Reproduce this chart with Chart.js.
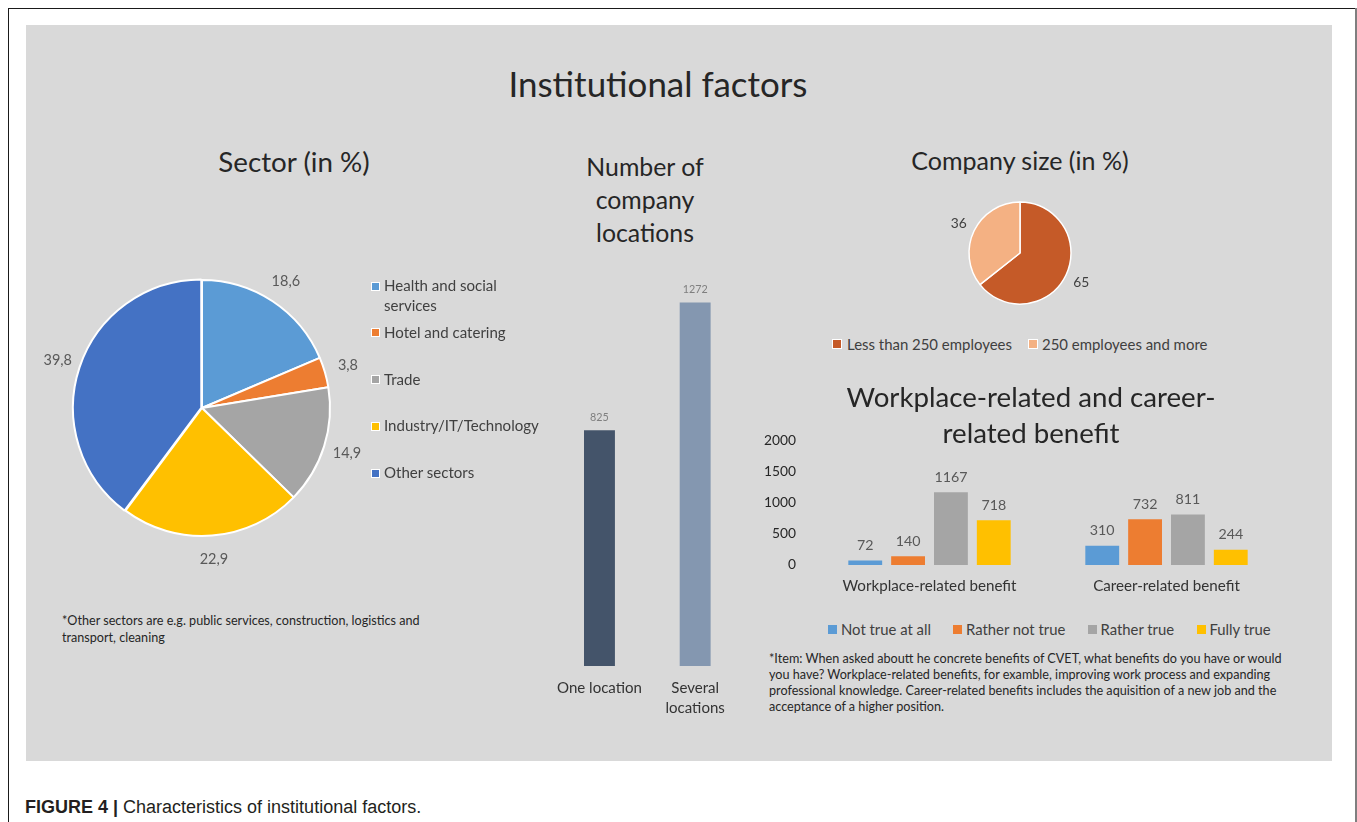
<!DOCTYPE html>
<html>
<head>
<meta charset="utf-8">
<script src="https://cdn.jsdelivr.net/npm/chart.js@4.4.1/dist/chart.umd.min.js"></script>
<style>
  body { margin: 0; width: 1357px; height: 822px; overflow: hidden; position: relative; background: #fff; font-family: Lato, sans-serif; }
  .abs { position: absolute; }
  #panel { left: 26px; top: 25px; width: 1306px; height: 736px; background: #d9d9d9; }
  #lineTop { left: 8px; top: 8px; width: 1349px; height: 1px; background: #1a1a1a; }
  #lineLeft { left: 8px; top: 8px; width: 1px; height: 814px; background: #1a1a1a; }
  #lineRight { left: 1355px; top: 8px; width: 2px; height: 814px; background: #7f7f7f; }
  .sq { position: absolute; box-sizing: border-box; }
</style>
</head>
<body>
<div class="abs" id="lineTop"></div>
<div class="abs" id="lineLeft"></div>
<div class="abs" id="lineRight"></div>
<div class="abs" id="panel"></div>

<canvas id="sector" class="abs" width="360" height="340" style="left:22px;top:238px"></canvas>
<canvas id="locations" class="abs" width="198" height="464" style="left:545px;top:256px"></canvas>
<canvas id="size" class="abs" width="200" height="140" style="left:920px;top:183px"></canvas>
<canvas id="benefit" class="abs" width="560" height="183" style="left:740px;top:417px"></canvas>

<script>
let FONT = 'Lato, sans-serif';

// data
let sectorLabels = ['Health and social\nservices', 'Hotel and catering', 'Trade', 'Industry/IT/Technology', 'Other sectors'];
let sectorValues = [18.6, 3.8, 14.9, 22.9, 39.8];
let sectorColors = ['#5b9bd5', '#ed7d31', '#a5a5a5', '#ffc000', '#4472c4'];

let locationLabels = [['One location'], ['Several', 'locations']];
let locationValues = [825, 1272];
let locationColors = ['#44546a', '#8497b0'];

let sizeLabels = ['Less than 250 employees', '250 employees and more'];
let sizeValues = [65, 36];
let sizeColors = ['#c55a28', '#f4b183'];

let benefitLabels = ['Workplace-related benefit', 'Career-related benefit'];
let answerLabels = ['Not true at all', 'Rather not true', 'Rather true', 'Fully true'];
let notTrueAtAll = [72, 310];
let ratherNotTrue = [140, 732];
let ratherTrue = [1167, 811];
let fullyTrue = [718, 244];
let answerColors = ['#5b9bd5', '#ed7d31', '#a5a5a5', '#ffc000'];
let benefitTicks = [0, 500, 1000, 1500, 2000];

// helpers
let measureCtx = document.createElement('canvas').getContext('2d');

let fitSize = (text, width, weight = 400, family = FONT) => {
  measureCtx.font = `${weight} 100px ${family}`;
  return 100 * width / measureCtx.measureText(text).width;
};

let put = (text, x, y, o = {}) => {
  let weight = o.weight || 400;
  let family = o.family || FONT;
  let size = o.w ? fitSize(text, o.w, weight, family) : (o.size || 14);
  let d = document.createElement('div');
  d.textContent = text;
  Object.assign(d.style, {
    position: 'absolute', left: x + 'px', top: y + 'px',
    font: `${weight} ${size}px ${family}`, color: o.color || '#262626',
    whiteSpace: 'nowrap', lineHeight: '1',
    transform: `translate(${o.align === 'center' ? '-50%' : '0'}, -50%)`,
  });
  document.body.appendChild(d);
  return size;
};

let square = (x, y, s, color, border) => {
  let d = document.createElement('div');
  d.className = 'sq';
  Object.assign(d.style, {
    left: x + 'px', top: (y - s / 2) + 'px', width: s + 'px', height: s + 'px',
    background: color, border: border ? '1px solid #fff' : 'none',
  });
  document.body.appendChild(d);
};

// labels drawn from the elements the library placed
let pieLabels = {
  id: 'pieLabels',
  afterDatasetsDraw(chart, args, opts) {
    let ctx = chart.ctx;
    let meta = chart.getDatasetMeta(0);
    let values = chart.data.datasets[0].data;
    ctx.save();
    ctx.font = `${opts.size}px ${FONT}`;
    ctx.fillStyle = opts.color;
    ctx.textAlign = 'center';
    ctx.textBaseline = 'middle';
    meta.data.forEach((arc, i) => {
      let p = arc.getProps(['x', 'y', 'startAngle', 'endAngle', 'outerRadius'], true);
      let a = (p.startAngle + p.endAngle) / 2;
      let r = p.outerRadius + opts.gap;
      ctx.fillText(opts.format(values[i]), p.x + Math.cos(a) * r, p.y + Math.sin(a) * r);
    });
    ctx.restore();
  },
};

let barLabels = {
  id: 'barLabels',
  afterDatasetsDraw(chart, args, opts) {
    let ctx = chart.ctx;
    ctx.save();
    ctx.font = `${opts.size}px ${FONT}`;
    ctx.fillStyle = opts.color;
    ctx.textAlign = 'center';
    ctx.textBaseline = 'middle';
    chart.data.datasets.forEach((ds, di) => {
      chart.getDatasetMeta(di).data.forEach((bar, i) => {
        ctx.fillText(String(ds.data[i]), bar.x, bar.y - opts.gap);
      });
    });
    ctx.restore();
  },
};

Chart.defaults.font.family = FONT;
Chart.defaults.animation = false;
Chart.defaults.plugins.legend.display = false;
Chart.defaults.plugins.tooltip.enabled = false;

// titles and notes
put('Institutional factors', 658, 84, { w: 299, align: 'center' });

put('Sector (in %)', 294, 162, { w: 152, align: 'center' });
let locSize = put('Number of', 645, 166, { w: 118, align: 'center' });
put('company', 645, 199, { size: locSize, align: 'center' });
put('locations', 645, 232, { size: locSize, align: 'center' });
put('Company size (in %)', 1020, 161, { w: 218, align: 'center' });
let benSize = put('Workplace-related and career-', 1031, 397, { w: 369, align: 'center' });
put('related benefit', 1031, 433, { size: benSize, align: 'center' });

let fn1 = put('*Other sectors are e.g. public services, construction, logistics and', 62, 621, { w: 358 });
put('transport, cleaning', 62, 638, { size: fn1 });

let fn2 = put('*Item: When asked aboutt he concrete benefits of CVET, what benefits do you have or would', 769, 659, { w: 515 });
put('you have? Workplace-related benefits, for examble, improving work process and expanding', 769, 675, { size: fn2 });
put('professional knowledge. Career-related  benefits includes the aquisition of a new job and the', 769, 691, { size: fn2 });
put('acceptance of a higher position.', 769, 707, { size: fn2 });

// caption
let cap = document.createElement('div');
cap.innerHTML = '<b>FIGURE 4 |</b> Characteristics of institutional factors.';
Object.assign(cap.style, { position: 'absolute', left: '25px', top: '798px', font: '18px "Liberation Sans", Arial, sans-serif', color: '#231f20', whiteSpace: 'nowrap', lineHeight: '1' });
document.body.appendChild(cap);

// legends
let secLeg = fitSize('Industry/IT/Technology', 155);
sectorLabels.forEach((lab, i) => {
  let y = 286 + i * 46.75;
  square(371, y, 9, sectorColors[i], true);
  lab.split('\n').forEach((line, k) => put(line, 384, y + k * 20, { size: secLeg, color: '#404040' }));
});

let sizeLegX = [[832, 847], [1028, 1042]];
let sizeLeg = fitSize(sizeLabels[0], 165);
sizeLabels.forEach((lab, i) => {
  square(sizeLegX[i][0], 344, 10, sizeColors[i], true);
  put(lab, sizeLegX[i][1], 344, { size: sizeLeg, color: '#404040' });
});

let ansLegX = [[828, 841], [952.5, 966], [1087.5, 1100.5], [1196.5, 1209.5]];
let ansLeg = fitSize(answerLabels[0], 90);
answerLabels.forEach((lab, i) => {
  square(ansLegX[i][0], 629, 9, answerColors[i], false);
  put(lab, ansLegX[i][1], 629, { size: ansLeg, color: '#404040' });
});

// sector pie
new Chart(document.getElementById('sector'), {
  type: 'pie',
  data: {
    labels: sectorLabels,
    datasets: [{
      data: sectorValues,
      backgroundColor: sectorColors,
      borderColor: '#ffffff',
      borderWidth: 2,
      offset: [0, 0, 0, 0, 3],
      radius: 128,
    }],
  },
  options: {
    responsive: false,
    plugins: {
      pieLabels: { size: fitSize('39,8', 28.5), color: '#595959', gap: 24, format: (v) => v.toFixed(1).replace('.', ',') },
    },
  },
  plugins: [pieLabels],
});

// company size pie
new Chart(document.getElementById('size'), {
  type: 'pie',
  data: {
    labels: sizeLabels,
    datasets: [{
      data: sizeValues,
      backgroundColor: sizeColors,
      borderColor: '#ffffff',
      borderWidth: 1.5,
      radius: 51,
    }],
  },
  options: {
    responsive: false,
    plugins: {
      pieLabels: { size: fitSize('36', 16), color: '#404040', gap: 17, format: (v) => String(v) },
    },
  },
  plugins: [pieLabels],
});

// number of company locations
let locTick = fitSize('One location', 85);
new Chart(document.getElementById('locations'), {
  type: 'bar',
  data: {
    labels: locationLabels,
    datasets: [{ data: locationValues, backgroundColor: locationColors, barPercentage: 0.404, categoryPercentage: 0.8 }],
  },
  options: {
    responsive: false,
    layout: { padding: { top: 10, left: 0, right: 0, bottom: 0 } },
    scales: {
      x: {
        grid: { display: false, drawTicks: false },
        border: { display: false },
        ticks: { color: '#333', font: { size: locTick, lineHeight: 20 / locTick }, padding: 12, maxRotation: 0, autoSkip: false },
        afterFit: (axis) => { axis.height = 54; },
      },
      y: { display: false, min: 0, max: 1400 },
    },
    plugins: {
      barLabels: { size: fitSize('1272', 25), color: '#7f7f7f', gap: 13 },
    },
  },
  plugins: [barLabels],
});

// workplace / career benefit
let series = [notTrueAtAll, ratherNotTrue, ratherTrue, fullyTrue];
new Chart(document.getElementById('benefit'), {
  type: 'bar',
  data: {
    labels: benefitLabels,
    datasets: answerLabels.map((name, i) => ({
      label: name,
      data: series[i],
      backgroundColor: answerColors[i],
      barPercentage: 0.79,
      categoryPercentage: 0.723,
    })),
  },
  options: {
    responsive: false,
    layout: { padding: { top: 0, right: 15, left: 0, bottom: 0 } },
    scales: {
      x: {
        grid: { display: false, drawTicks: false },
        border: { display: false },
        ticks: { color: '#333', font: { size: fitSize(benefitLabels[0], 174) }, padding: 12, maxRotation: 0 },
        afterFit: (axis) => { axis.height = 35; },
      },
      y: {
        min: 0,
        max: 2000,
        grid: { display: false, drawTicks: false },
        border: { display: false },
        afterBuildTicks: (axis) => { axis.ticks = benefitTicks.map((v) => ({ value: v })); },
        ticks: { color: '#262626', font: { size: fitSize('2000', 32) }, padding: 15, callback: (v) => String(v) },
        afterFit: (axis) => { axis.width = 71; },
      },
    },
    plugins: {
      barLabels: { size: fitSize('1167', 33), color: '#595959', gap: 15 },
    },
  },
  plugins: [barLabels],
});
</script>
</body>
</html>
